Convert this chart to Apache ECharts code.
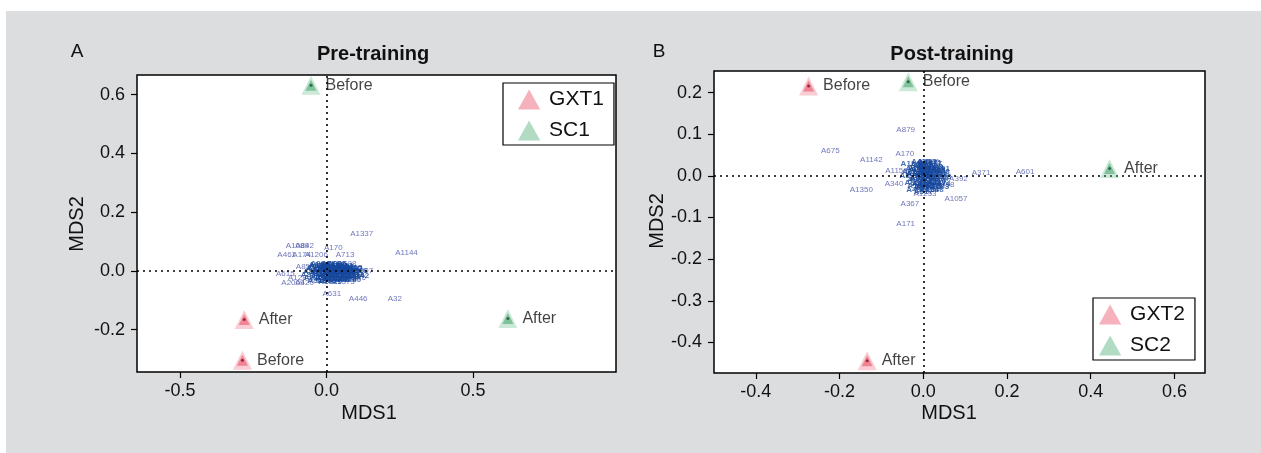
<!DOCTYPE html>
<html>
<head>
<meta charset="utf-8">
<script src="https://cdn.jsdelivr.net/npm/echarts@6/dist/echarts.min.js"></script>
<style>
  html, body { margin: 0; padding: 0; background: #ffffff; }
  #chart { position: absolute; left: 0; top: 0; width: 1261px; height: 453px; }
</style>
</head>
<body>
<div id="chart"></div>
<script>
// ---- Pre-training MDS (panel A) ----
const gxt1 = [[-0.287, -0.304, 'Before'], [-0.281, -0.165, 'After']];
const sc1 = [[-0.053, 0.632, 'Before'], [0.619, -0.162, 'After']];
const genesA = [
  [0.120, 0.125, 'A1337'], [0.273, 0.063, 'A1144'], [-0.100, 0.087, 'A1089'],
  [-0.075, 0.087, 'A842'], [0.023, 0.080, 'A170'], [-0.136, 0.056, 'A461'],
  [-0.085, 0.056, 'A174'], [-0.035, 0.056, 'A1206'], [0.063, 0.056, 'A713'],
  [-0.073, 0.014, 'A853'], [0.070, 0.025, 'A588'], [0.120, 0.000, 'A1097'],
  [-0.141, -0.009, 'A615'], [-0.100, -0.023, 'A128'], [-0.115, -0.041, 'A2009'],
  [-0.075, -0.041, 'A420'], [0.057, -0.037, 'A1373'], [0.103, -0.023, 'A376'],
  [0.018, -0.079, 'A631'], [0.108, -0.094, 'A446'], [0.233, -0.094, 'A32']
];
const coreA = [
  [-0.050, 0.012, 'A3'], [-0.040, -0.005, 'A7'], [-0.035, 0.018, 'A11'], [-0.030, -0.020, 'A15'],
  [-0.025, 0.005, 'A22'], [-0.020, -0.012, 'A26'], [-0.018, 0.015, 'A31'], [-0.012, -0.028, 'A38'],
  [-0.010, 0.002, 'A44'], [-0.006, 0.010, 'A52'], [-0.004, -0.016, 'A57'], [0.000, 0.020, 'A63'],
  [0.002, -0.006, 'A69'], [0.005, 0.008, 'A75'], [0.008, -0.024, 'A81'], [0.010, 0.000, 'A96'],
  [0.012, 0.016, 'A104'], [0.015, -0.010, 'A118'], [0.018, 0.004, 'A133'], [0.020, -0.030, 'A147'],
  [0.022, 0.012, 'A162'], [0.025, -0.004, 'A185'], [0.028, 0.020, 'A199'], [0.030, -0.016, 'A214'],
  [0.033, 0.006, 'A236'], [0.036, -0.008, 'A251'], [0.040, 0.014, 'A277'], [0.042, -0.022, 'A293'],
  [0.045, 0.000, 'A318'], [0.050, 0.010, 'A342'], [0.052, -0.012, 'A365'], [0.056, 0.004, 'A389'],
  [0.060, -0.018, 'A407'], [0.064, 0.008, 'A432'], [0.068, -0.006, 'A458'], [0.072, 0.012, 'A481'],
  [0.076, -0.014, 'A509'], [0.080, 0.002, 'A533'], [0.085, -0.020, 'A560'], [0.090, 0.006, 'A587'],
  [-0.045, -0.025, 'A612'], [-0.028, 0.022, 'A640'], [0.000, -0.035, 'A668'], [0.035, 0.024, 'A695'],
  [0.060, 0.018, 'A721'], [-0.015, -0.008, 'A749'], [0.015, 0.025, 'A776'], [0.045, -0.030, 'A803'],
  [-0.055, -0.012, 'A834'], [0.095, -0.008, 'A861'],
  [-0.048, -0.002, 'A887'], [-0.038, 0.008, 'A903'], [-0.032, -0.032, 'A918'], [-0.022, 0.026, 'A934'],
  [-0.016, 0.000, 'A951'], [-0.008, -0.022, 'A967'], [-0.002, 0.006, 'A982'], [0.004, -0.014, 'A998'],
  [0.006, 0.016, 'A1013'], [0.012, -0.036, 'A1029'], [0.014, 0.008, 'A1046'], [0.020, -0.018, 'A1062'],
  [0.024, 0.004, 'A1078'], [0.026, -0.026, 'A1093'], [0.032, 0.016, 'A1109'], [0.034, -0.002, 'A1125'],
  [0.038, -0.028, 'A1140'], [0.044, 0.008, 'A1156'], [0.048, -0.016, 'A1171'], [0.054, 0.014, 'A1187'],
  [0.058, -0.004, 'A1202'], [0.062, -0.026, 'A1218'], [0.066, 0.002, 'A1233'], [0.070, -0.020, 'A1249'],
  [0.074, 0.006, 'A1264'], [0.078, -0.030, 'A1280'], [0.082, 0.010, 'A1295'], [0.088, -0.012, 'A1311'],
  [0.100, 0.000, 'A1326'], [0.105, -0.018, 'A1342']
];
const xTicksA = [-0.5, 0, 0.5];
const yTicksA = [-0.2, 0, 0.2, 0.4, 0.6];

// ---- Post-training MDS (panel B) ----
const gxt2 = [[-0.274, 0.216, 'Before'], [-0.134, -0.444, 'After']];
const sc2 = [[-0.036, 0.226, 'Before'], [0.445, 0.018, 'After']];
const genesB = [
  [-0.042, 0.110, 'A879'], [-0.222, 0.061, 'A675'], [-0.124, 0.038, 'A1142'],
  [-0.044, 0.052, 'A170'], [-0.064, 0.012, 'A1150'], [0.138, 0.008, 'A371'],
  [0.243, 0.010, 'A601'], [-0.148, -0.034, 'A1350'], [-0.070, -0.019, 'A340'],
  [0.004, -0.042, 'A1253'], [0.078, -0.054, 'A1057'], [-0.032, -0.066, 'A367'],
  [-0.042, -0.114, 'A171'], [0.084, -0.007, 'A392'], [0.052, -0.022, 'A958'],
  [0.012, 0.034, 'A1081']
];
const coreB = [
  [-0.030, 0.018, 'A4'], [-0.026, -0.010, 'A9'], [-0.024, 0.005, 'A13'], [-0.021, -0.024, 'A18'],
  [-0.017, 0.015, 'A24'], [-0.015, -0.004, 'A29'], [-0.013, 0.027, 'A35'], [-0.010, -0.018, 'A41'],
  [-0.008, 0.008, 'A48'], [-0.005, -0.029, 'A55'], [-0.003, 0.000, 'A61'], [0.000, 0.018, 'A67'],
  [0.002, -0.012, 'A73'], [0.004, 0.029, 'A79'], [0.005, 0.004, 'A88'], [0.007, -0.022, 'A101'],
  [0.009, 0.012, 'A115'], [0.010, -0.006, 'A129'], [0.012, 0.024, 'A141'], [0.014, -0.033, 'A158'],
  [0.016, 0.002, 'A177'], [0.017, 0.016, 'A193'], [0.019, -0.014, 'A208'], [0.021, 0.008, 'A229'],
  [0.024, -0.024, 'A246'], [0.026, 0.020, 'A268'], [0.028, -0.004, 'A284'], [0.030, 0.012, 'A305'],
  [0.032, -0.016, 'A327'], [0.034, 0.004, 'A351'], [0.037, -0.008, 'A374'], [0.040, 0.010, 'A398'],
  [-0.006, 0.034, 'A415'], [0.009, 0.035, 'A443'], [0.022, 0.029, 'A467'], [-0.018, -0.033, 'A492'],
  [0.000, -0.038, 'A517'], [0.026, -0.034, 'A546'], [0.042, -0.020, 'A574'], [-0.034, 0.000, 'A599'],
  [-0.028, 0.010, 'A623'], [-0.022, -0.016, 'A651'], [-0.017, 0.004, 'A679'], [-0.014, 0.020, 'A704'],
  [-0.010, -0.008, 'A732'], [-0.007, 0.014, 'A758'], [-0.003, -0.020, 'A785'], [-0.002, 0.025, 'A812'],
  [0.002, 0.006, 'A840'], [0.004, -0.027, 'A866'], [0.007, 0.020, 'A893'], [0.009, -0.002, 'A921'],
  [0.012, -0.016, 'A947'], [0.014, 0.010, 'A974'], [0.017, -0.026, 'A1002'], [0.019, 0.023, 'A1029'],
  [0.021, -0.002, 'A1055'], [0.024, 0.014, 'A1083'], [0.027, -0.014, 'A1110'], [0.031, 0.002, 'A1136'],
  [0.034, -0.025, 'A1163'], [0.036, 0.016, 'A1191'], [0.039, -0.002, 'A1218'], [-0.026, 0.028, 'A1244'],
  [0.016, 0.031, 'A1271']
];
const xTicksB = [-0.4, -0.2, 0, 0.2, 0.4, 0.6];
const yTicksB = [-0.4, -0.3, -0.2, -0.1, 0, 0.1, 0.2];

const FONT = "'Liberation Sans', Arial, sans-serif";
const INK = '#111111';

const GXT = { outer: 'rgba(240,105,125,0.42)', inner: 'rgba(232,80,104,0.72)', dot: '#7a1424', legend: 'rgba(236,100,120,0.62)' };
const SC = { outer: 'rgba(105,190,140,0.42)', inner: 'rgba(72,165,112,0.72)', dot: '#1c5233', legend: 'rgba(100,182,135,0.62)' };

function axisFor(gi, min, max, ticks, margin) {
  return {
    type: 'value', gridIndex: gi, min: min, max: max,
    axisLine: { show: false, onZero: false },
    splitLine: { show: false },
    axisTick: { show: true, length: 6, customValues: ticks, lineStyle: { color: '#000', width: 1.2 } },
    axisLabel: { customValues: ticks, margin: margin, fontSize: 18, fontFamily: FONT, color: INK,
      formatter: v => v.toFixed(1) }
  };
}

// gene labels drawn as text at each point
function geneSeries(gi, data, color, size, weight, withRefLines) {
  const s = {
    type: 'scatter', xAxisIndex: gi, yAxisIndex: gi, data: data,
    symbolSize: 1, itemStyle: { color: 'rgba(0,0,0,0)' }, silent: true, z: 3,
    label: { show: true, position: 'inside', formatter: p => p.data[2],
      fontSize: size, fontWeight: weight, fontFamily: FONT, color: color }
  };
  if (withRefLines) {
    s.markLine = {
      silent: true, symbol: 'none', label: { show: false },
      lineStyle: { color: '#000', type: [2, 4], width: 1.6 },
      data: [{ xAxis: 0 }, { yAxis: 0 }]
    };
  }
  return s;
}

// layered triangle marker: faint outer, stronger inner, dark centre dot
function groupSeries(gi, name, data, pal) {
  return [
    { name: name, type: 'scatter', xAxisIndex: gi, yAxisIndex: gi, data: data,
      symbol: 'triangle', symbolSize: 19, itemStyle: { color: pal.outer }, z: 5,
      label: { show: true, position: 'right', distance: 5, formatter: p => p.data[2],
        fontSize: 16, fontFamily: FONT, color: INK } },
    { name: name + ' core', type: 'scatter', xAxisIndex: gi, yAxisIndex: gi, data: data,
      symbol: 'triangle', symbolSize: 11, itemStyle: { color: pal.inner }, z: 6 },
    { name: name + ' centre', type: 'scatter', xAxisIndex: gi, yAxisIndex: gi, data: data,
      symbol: 'circle', symbolSize: 3, itemStyle: { color: pal.dot }, z: 7 }
  ];
}

const TRI = 'path://M10,0 L20,18 L0,18 Z';
function legendFor(names, pos, pad) {
  return {
    data: [
      { name: names[0], itemStyle: { color: GXT.legend } },
      { name: names[1], itemStyle: { color: SC.legend } }
    ],
    orient: 'vertical', left: pos[0], top: pos[1],
    icon: TRI, symbolKeepAspect: true, itemWidth: 30, itemHeight: 20, itemGap: 10,
    padding: pad, backgroundColor: '#ffffff', borderColor: '#000', borderWidth: 1.2, borderRadius: 0,
    textStyle: { fontSize: 21, fontFamily: FONT, color: INK }, selectedMode: false
  };
}

function label(text, x, y, size, weight, rot) {
  return { type: 'text', x: x, y: y, rotation: rot || 0, z: 100,
    style: { text: text, fill: INK, font: (weight || 'normal') + ' ' + size + 'px ' + FONT,
      align: 'center', verticalAlign: 'middle' } };
}

const chart = echarts.init(document.getElementById('chart'), null, { renderer: 'canvas' });
chart.setOption({
  animation: false,
  backgroundColor: '#ffffff',
  graphic: [
    { type: 'rect', shape: { x: 6, y: 11, width: 1261, height: 453 }, style: { fill: '#dcdddf' }, z: -10, silent: true },
    label('A', 77, 52, 19),
    label('B', 659, 52, 19),
    label('Pre-training', 373, 54, 20, 'bold'),
    label('Post-training', 952, 54, 20, 'bold'),
    label('MDS1', 369, 413, 20),
    label('MDS1', 949, 413, 20),
    label('MDS2', 77, 224, 20, 'normal', Math.PI / 2),
    label('MDS2', 657, 221, 20, 'normal', Math.PI / 2)
  ],
  grid: [
    { left: 137, top: 75, width: 479, height: 297, show: true, backgroundColor: '#ffffff', borderColor: '#000', borderWidth: 1.5 },
    { left: 714, top: 71, width: 491, height: 302, show: true, backgroundColor: '#ffffff', borderColor: '#000', borderWidth: 1.5 }
  ],
  xAxis: [axisFor(0, -0.647, 0.988, xTicksA, 10), axisFor(1, -0.5, 0.673, xTicksB, 10)],
  yAxis: [axisFor(0, -0.344, 0.667, yTicksA, 12), axisFor(1, -0.4735, 0.252, yTicksB, 12)],
  legend: [
    legendFor(['GXT1', 'SC1'], [503, 83], [6, 10, 4, 15]),
    legendFor(['GXT2', 'SC2'], [1093, 298], [6, 10, 4, 6])
  ],
  series: [
    geneSeries(0, genesA, '#4b55aa', 8, 'normal', true),
    geneSeries(0, coreA, '#17479c', 8, 'bold', false),
    ...groupSeries(0, 'GXT1', gxt1, GXT),
    ...groupSeries(0, 'SC1', sc1, SC),
    geneSeries(1, genesB, '#4b55aa', 8, 'normal', true),
    geneSeries(1, coreB, '#17479c', 8, 'bold', false),
    ...groupSeries(1, 'GXT2', gxt2, GXT),
    ...groupSeries(1, 'SC2', sc2, SC)
  ]
});
</script>
</body>
</html>
